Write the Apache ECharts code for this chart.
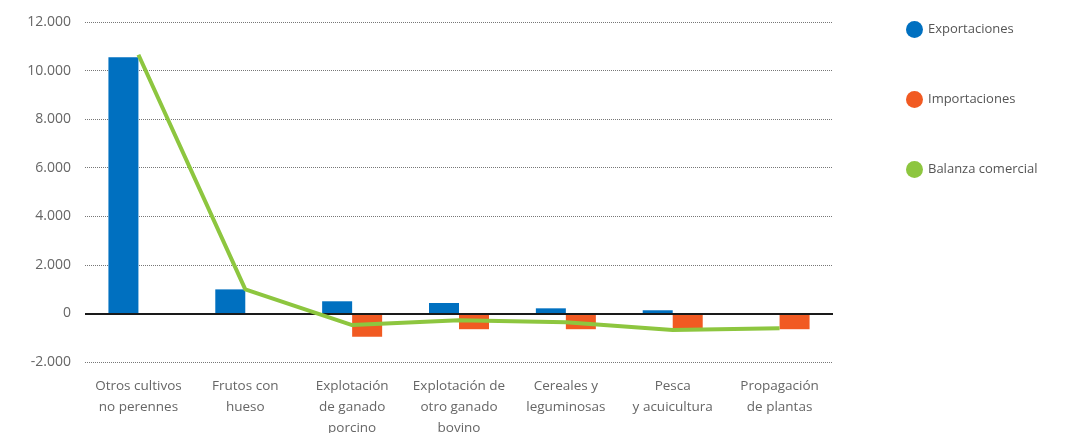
<!DOCTYPE html>
<html><head><meta charset="utf-8">
<script src="https://cdn.jsdelivr.net/npm/echarts@6/dist/echarts.min.js"></script>
<style>html,body{margin:0;padding:0;background:#fff}#c{width:1072px;height:433px}</style>
</head><body><div id="c"></div>
<script>
var categories = ['Otros cultivos\nno perennes','Frutos con\nhueso','Explotación\nde ganado\nporcino','Explotación de\notro ganado\nbovino','Cereales y\nleguminosas','Pesca\ny acuicultura','Propagación\nde plantas'];
var exportaciones = [10550, 990, 500, 430, 210, 130, 0];
var importaciones = [0, 0, -960, -650, -650, -650, -650];
var balanza = [10650, 990, -480, -280, -360, -680, -610];
var yTicks = {min: -2000, max: 12000, interval: 2000};

var chart = echarts.init(document.getElementById('c'));
var font = '"Open Sans", "Noto Sans", sans-serif';
chart.setOption({
  animation: false,
  textStyle: {fontFamily: font},
  grid: {left: 85, right: 239, top: 22, bottom: 71, containLabel: false, outerBoundsMode: 'none'},
  legend: {
    orient: 'vertical', left: 901, top: 16, itemGap: 53,
    itemWidth: 17, itemHeight: 17, icon: 'circle',
    textStyle: {fontFamily: font, fontSize: 13, color: '#555'},
    data: ['Exportaciones','Importaciones','Balanza comercial']
  },
  xAxis: {
    type: 'category', data: categories,
    axisLine: {show: false}, axisTick: {show: false},
    axisLabel: {fontFamily: font, fontSize: 13.5, color: '#666', lineHeight: 21, margin: 14, interval: 0}
  },
  yAxis: {
    type: 'value', min: yTicks.min, max: yTicks.max, interval: yTicks.interval,
    axisLine: {show: false}, axisTick: {show: false},
    axisLabel: {fontFamily: font, fontSize: 14, color: '#666', margin: 14,
      formatter: function(v){ return String(v).replace(/\B(?=(\d{3})+(?!\d))/g, '.'); }},
    splitLine: {lineStyle: {type: [1, 1], color: '#777', width: 1}}
  },
  series: [
    {name: 'Exportaciones', type: 'bar', data: exportaciones, barWidth: 30, barGap: '0%',
      itemStyle: {color: '#0070c0'},
      markLine: {silent: true, symbol: 'none', label: {show: false},
        lineStyle: {color: '#1a1a1a', width: 2, type: 'solid'}, data: [{yAxis: 0}]}},
    {name: 'Importaciones', type: 'bar', data: importaciones, barWidth: 30, barGap: '0%',
      itemStyle: {color: '#f15a22'}},
    {name: 'Balanza comercial', type: 'line', data: balanza, showSymbol: false, symbol: 'circle',
      lineStyle: {color: '#8dc63f', width: 4}, itemStyle: {color: '#8dc63f'}, z: 5}
  ]
});
</script></body></html>
